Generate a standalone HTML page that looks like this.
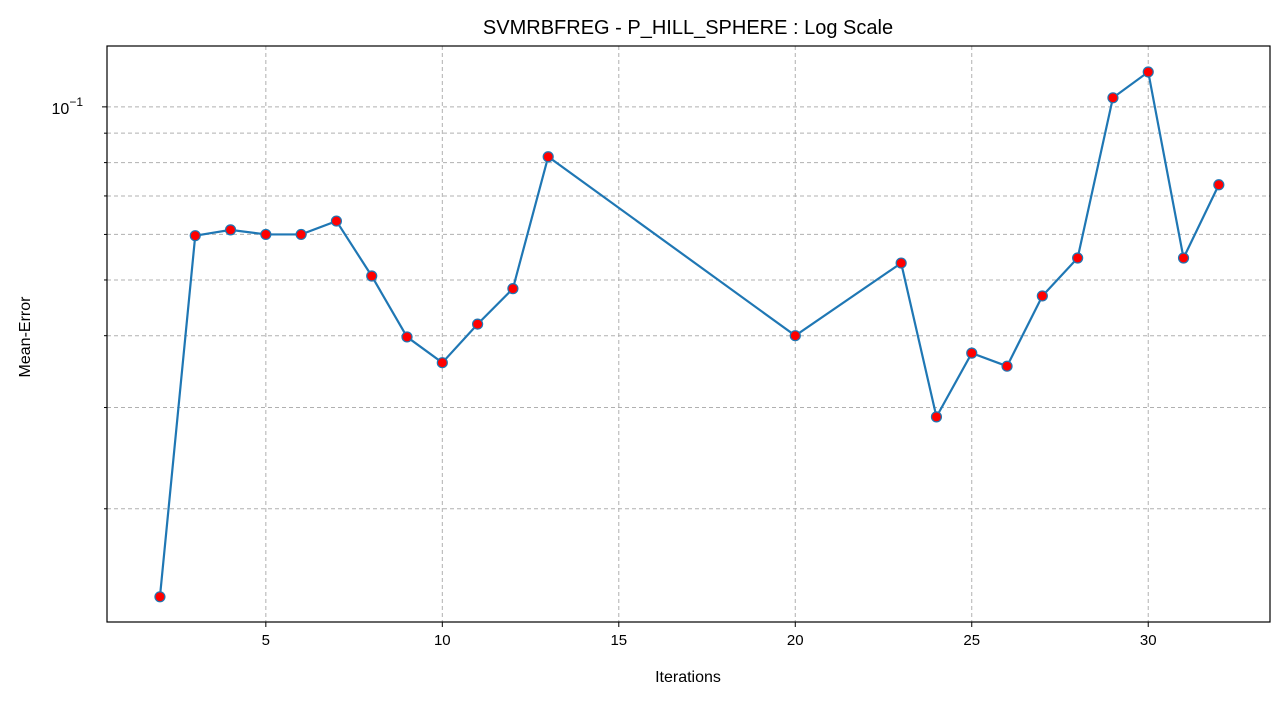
<!DOCTYPE html>
<html><head><meta charset="utf-8"><style>
body{margin:0;background:#fff;}
svg text{font-family:"Liberation Sans","DejaVu Sans",sans-serif;fill:#000;}
</style></head><body>
<svg id="chart" width="1284" height="701" xmlns="http://www.w3.org/2000/svg">
<rect width="1284" height="701" fill="#fff"/>
<g id="grid"></g>
<g id="axes"></g>
<g id="series"></g>
<rect x="107" y="46" width="1163" height="576" fill="none" stroke="#000" stroke-width="1.2"/>
<text x="688" y="34" text-anchor="middle" font-size="20">SVMRBFREG - P_HILL_SPHERE : Log Scale</text>
<text x="688" y="682" text-anchor="middle" font-size="16">Iterations</text>
<text transform="translate(30,337) rotate(-90)" text-anchor="middle" font-size="16">Mean-Error</text>
</svg>
<script>
const iterations=[2,3,4,5,6,7,8,9,10,11,12,13,20,23,24,25,26,27,28,29,30,31,32];
const meanError=[0.01406,0.0597,0.0611,0.0600,0.0600,0.0633,0.0508,0.0398,0.0359,0.0419,0.0483,0.0819,0.0400,0.0535,0.0289,0.0373,0.0354,0.0469,0.0546,0.1037,0.1150,0.0546,0.0732];
const xTicks=[5,10,15,20,25,30];
const yMinorTicks=[0.02,0.03,0.04,0.05,0.06,0.07,0.08,0.09];
const yMajorTicks=[0.1];
const L=107,R=1270,T=46,B=622;
const xMin=0.5,xMax=33.45;
const lyMin=Math.log10(0.01271),lyMax=Math.log10(0.1276);
const sx=v=>L+(v-xMin)/(xMax-xMin)*(R-L);
const sy=v=>B-(Math.log10(v)-lyMin)/(lyMax-lyMin)*(B-T);
const NS='http://www.w3.org/2000/svg';
function mk(tag,parent,attrs){const e=document.createElementNS(NS,tag);for(const k in attrs)e.setAttribute(k,attrs[k]);parent.appendChild(e);return e;}
const grid=document.getElementById('grid'),axes=document.getElementById('axes'),ser=document.getElementById('series');
xTicks.forEach(t=>{const x=sx(t);
 const g=mk('line',grid,{x1:x,x2:x,y1:T,y2:B,stroke:'#b0b0b0','stroke-dasharray':'4,3','stroke-width':1});
 
 
 const tk=mk('line',axes,{x1:x,x2:x,y1:B,y2:B+5,stroke:'#000'});
 
 
 const lb=mk('text',axes,{x:x,y:B+23,'text-anchor':'middle','font-size':15});lb.textContent=t;
 
 
});
yMinorTicks.concat(yMajorTicks).forEach(t=>{const y=sy(t);
 const g=mk('line',grid,{x1:L,x2:R,y1:y,y2:y,stroke:'#b0b0b0','stroke-dasharray':'4,3','stroke-width':1});
 
 
 const major=yMajorTicks.includes(t);
 const tk=mk('line',axes,{x1:L-(major?5:3),x2:L,y1:y,y2:y,stroke:'#000'});
 
 
});
yMajorTicks.forEach(t=>{const y=sy(t);
 const lb=mk('text',axes,{x:L-24,y:y+7,'text-anchor':'end','font-size':16});
 lb.innerHTML='10<tspan dy="-8" font-size="12">−1</tspan>';
 
 
});
const pts=iterations.map((v,i)=>sx(v)+','+sy(meanError[i])).join(' ');
const pl=mk('polyline',ser,{points:pts,fill:'none',stroke:'#1f77b4','stroke-width':2.2});


iterations.forEach((v,i)=>{
 const c=mk('circle',ser,{cx:sx(v),cy:sy(meanError[i]),r:5,fill:'#ff0000',stroke:'#1f77b4','stroke-width':1.2});
 
 
});
</script>
</body></html>
